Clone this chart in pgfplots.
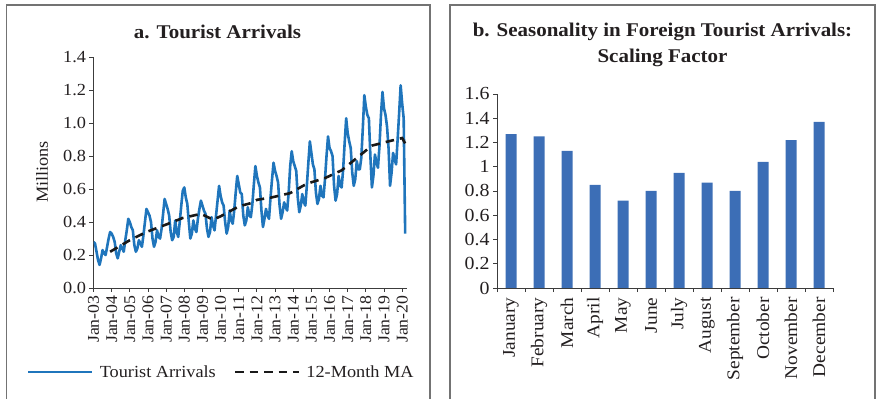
\documentclass[border=0pt]{standalone}
\usepackage{fontspec}
\setmainfont[FakeStretch=1.08]{Liberation Serif}
\usepackage{pgfplots}
\usepackage{pgfplotstable}
\pgfplotsset{compat=1.18}
\definecolor{lineblue}{RGB}{31,117,188}
\definecolor{barblue}{RGB}{60,110,182}
\definecolor{framegray}{RGB}{115,115,115}
\definecolor{axisgray}{RGB}{60,60,60}
\definecolor{txt}{RGB}{35,31,32}

\pgfplotstableread[row sep=\\]{
m v\\
0 0.28\\ 1 0.27\\ 2 0.22\\ 3 0.17\\ 4 0.14\\ 5 0.18\\ 6 0.23\\ 7 0.21\\ 8 0.20\\ 9 0.25\\ 10 0.30\\ 11 0.34\\
12 0.33\\ 13 0.31\\ 14 0.28\\ 15 0.21\\ 16 0.18\\ 17 0.22\\ 18 0.26\\ 19 0.24\\ 20 0.22\\ 21 0.29\\ 22 0.35\\ 23 0.42\\
24 0.40\\ 25 0.37\\ 26 0.35\\ 27 0.26\\ 28 0.22\\ 29 0.24\\ 30 0.29\\ 31 0.27\\ 32 0.25\\ 33 0.32\\ 34 0.40\\ 35 0.48\\
36 0.46\\ 37 0.44\\ 38 0.40\\ 39 0.30\\ 40 0.25\\ 41 0.28\\ 42 0.35\\ 43 0.31\\ 44 0.30\\ 45 0.36\\ 46 0.45\\ 47 0.54\\
48 0.51\\ 49 0.48\\ 50 0.44\\ 51 0.34\\ 52 0.29\\ 53 0.31\\ 54 0.41\\ 55 0.34\\ 56 0.31\\ 57 0.40\\ 58 0.50\\ 59 0.59\\
60 0.61\\ 61 0.55\\ 62 0.51\\ 63 0.40\\ 64 0.30\\ 65 0.33\\ 66 0.41\\ 67 0.36\\ 68 0.34\\ 69 0.42\\ 70 0.48\\ 71 0.53\\
72 0.50\\ 73 0.47\\ 74 0.45\\ 75 0.36\\ 76 0.31\\ 77 0.34\\ 78 0.43\\ 79 0.38\\ 80 0.35\\ 81 0.44\\ 82 0.53\\ 83 0.62\\
84 0.56\\ 85 0.52\\ 86 0.50\\ 87 0.40\\ 88 0.33\\ 89 0.37\\ 90 0.47\\ 91 0.41\\ 92 0.39\\ 93 0.47\\ 94 0.58\\ 95 0.68\\
96 0.63\\ 97 0.58\\ 98 0.57\\ 99 0.44\\ 100 0.38\\ 101 0.41\\ 102 0.49\\ 103 0.44\\ 104 0.43\\ 105 0.51\\ 106 0.63\\ 107 0.74\\
108 0.68\\ 109 0.64\\ 110 0.61\\ 111 0.47\\ 112 0.37\\ 113 0.42\\ 114 0.48\\ 115 0.44\\ 116 0.42\\ 117 0.55\\ 118 0.66\\ 119 0.76\\
120 0.71\\ 121 0.68\\ 122 0.64\\ 123 0.50\\ 124 0.42\\ 125 0.46\\ 126 0.52\\ 127 0.49\\ 128 0.47\\ 129 0.58\\ 130 0.74\\ 131 0.83\\
132 0.77\\ 133 0.74\\ 134 0.71\\ 135 0.55\\ 136 0.46\\ 137 0.50\\ 138 0.57\\ 139 0.52\\ 140 0.50\\ 141 0.62\\ 142 0.76\\ 143 0.89\\
144 0.82\\ 145 0.75\\ 146 0.72\\ 147 0.58\\ 148 0.51\\ 149 0.54\\ 150 0.62\\ 151 0.56\\ 152 0.55\\ 153 0.66\\ 154 0.80\\ 155 0.92\\
156 0.85\\ 157 0.83\\ 158 0.80\\ 159 0.62\\ 160 0.53\\ 161 0.57\\ 162 0.68\\ 163 0.62\\ 164 0.61\\ 165 0.72\\ 166 0.88\\ 167 1.03\\
168 0.94\\ 169 0.89\\ 170 0.85\\ 171 0.70\\ 172 0.62\\ 173 0.66\\ 174 0.77\\ 175 0.72\\ 176 0.72\\ 177 0.79\\ 178 0.97\\ 179 1.17\\
180 1.10\\ 181 1.05\\ 182 1.03\\ 183 0.80\\ 184 0.61\\ 185 0.68\\ 186 0.81\\ 187 0.76\\ 188 0.73\\ 189 0.86\\ 190 1.05\\ 191 1.19\\
192 1.09\\ 193 1.05\\ 194 0.98\\ 195 0.85\\ 196 0.62\\ 197 0.70\\ 198 0.82\\ 199 0.78\\ 200 0.75\\ 201 0.90\\ 202 1.06\\ 203 1.23\\
204 1.12\\ 205 1.03\\ 206 0.33\\
}\arrivals

\pgfplotstableread[row sep=\\]{
m v\\
11 0.22\\ 24 0.29\\ 35 0.34\\ 48 0.385\\ 59 0.425\\ 71 0.45\\ 79 0.415\\ 84 0.435\\ 96 0.495\\ 104 0.515\\ 108 0.535\\
118 0.55\\ 130 0.576\\ 141 0.633\\ 153 0.667\\ 164 0.714\\ 174 0.789\\ 184 0.864\\ 195 0.89\\ 204 0.91\\ 206 0.877\\
}\movavg

\begin{document}
\begin{tikzpicture}
\useasboundingbox (0bp,0bp) rectangle (881bp,399bp);
\draw[framegray,line width=1.3bp] (6.5bp,-2bp) -- (6.5bp,394bp) -- (430bp,394bp) -- (430bp,-2bp);
\draw[framegray,line width=1.3bp] (450bp,-2bp) -- (450bp,394bp) -- (875bp,394bp) -- (875bp,-2bp);
\node[font=\fontsize{19.5}{26}\selectfont\bfseries, text=txt] at (217.5bp,367bp) {a. Tourist Arrivals};
\node[font=\fontsize{19.5}{26}\selectfont\bfseries, text=txt, align=center] at (662.5bp,354bp) {b. Seasonality in Foreign Tourist Arrivals:\\Scaling Factor};
\node[rotate=90, font=\fontsize{17}{20}\selectfont, text=txt] at (42bp,227bp) {Millions};

\begin{axis}[
  at={(93.5bp,111bp)}, anchor=origin, scale only axis,
  width=313.5bp, height=230.7bp,
  xmin=0, xmax=207.2, ymin=0, ymax=1.4,
  axis x line*=bottom, axis y line*=left,
  axis line style={axisgray, line width=0.9bp, -},
  tick style={axisgray, line width=0.9bp},
  tick align=outside, major tick length=4bp,
  xtick={0,12,24,36,48,60,72,84,96,108,120,132,144,156,168,180,192,204},
  xticklabels={Jan-03,Jan-04,Jan-05,Jan-06,Jan-07,Jan-08,Jan-09,Jan-10,Jan-11,Jan-12,Jan-13,Jan-14,Jan-15,Jan-16,Jan-17,Jan-18,Jan-19,Jan-20},
  xticklabel style={rotate=90, anchor=east, font=\fontsize{16.5}{20}\selectfont},
  ytick={0,0.2,0.4,0.6,0.8,1.0,1.2,1.4},
  yticklabel style={/pgf/number format/.cd, fixed, fixed zerofill, precision=1},
  /pgf/number format/assume math mode=true,
  tick label style={font=\fontsize{17}{20}\selectfont, text=txt},
  legend columns=2,
  legend style={at={(0.408,-0.364)}, anchor=center, draw=none, fill=none,
    font=\fontsize{17}{20}\selectfont, text=txt,
    /tikz/every odd column/.append style={column sep=4bp},
    /tikz/every even column/.append style={column sep=16bp}},
  legend image code/.code={\draw[#1] (0bp,0bp) -- (64bp,0bp);},
]
\addplot[lineblue, line width=2.6bp, line join=round] table[x=m, y=v] {\arrivals};
\addlegendentry{Tourist Arrivals}
\addplot[black!90, line width=2.6bp, dash pattern=on 8.5bp off 6bp] table[x=m, y=v] {\movavg};
\addlegendentry{12-Month MA}
\end{axis}

\begin{axis}[
  at={(511bp,111bp)}, anchor=origin, scale only axis,
  width=336bp, height=194bp,
  xmin=-0.5, xmax=11.5, ymin=0, ymax=1.6,
  axis x line*=bottom, axis y line*=left,
  axis line style={axisgray, line width=0.9bp, -},
  tick style={axisgray, line width=0.9bp},
  tick align=outside, major tick length=4bp,
  xtick={-0.5,0.5,1.5,2.5,3.5,4.5,5.5,6.5,7.5,8.5,9.5,10.5,11.5}, xticklabels={},
  extra x ticks={0,1,2,3,4,5,6,7,8,9,10,11},
  extra x tick labels={January,February,March,April,May,June,July,August,September,October,November,December},
  extra x tick style={major tick length=0bp, xticklabel style={rotate=90, anchor=east, font=\fontsize{18}{20}\selectfont}},
  xticklabel shift={6bp},
  ytick={0,0.2,0.4,0.6,0.8,1,1.2,1.4,1.6},
  /pgf/number format/assume math mode=true,
  tick label style={font=\fontsize{18.5}{20}\selectfont, text=txt},
]
\addplot[ybar, bar width=11bp, fill=barblue, draw=none] coordinates {
(0,1.27) (1,1.25) (2,1.13) (3,0.85) (4,0.72) (5,0.80) (6,0.95) (7,0.87) (8,0.80) (9,1.04) (10,1.22) (11,1.37)};
\end{axis}
\end{tikzpicture}
\end{document}
